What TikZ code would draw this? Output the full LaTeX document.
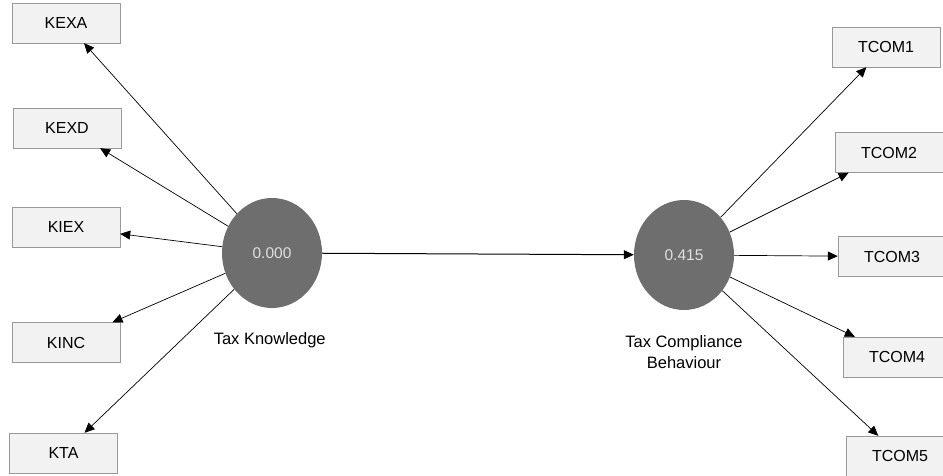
\documentclass[tikz,border=0pt]{standalone}
\usepackage{fontspec}
\setmainfont{Liberation Sans}
\usetikzlibrary{arrows.meta,shapes.geometric}
\begin{document}
\begin{tikzpicture}[x=1pt, y=-1pt,
        ind/.style={draw=black!40, fill=black!5, minimum width=108pt, minimum height=40pt,
            inner sep=0pt, font=\fontsize{16}{19}\selectfont},
        lat/.style={ellipse, fill=black!57, minimum width=100pt, minimum height=110pt,
            inner sep=0pt, text=white!88!black, font=\fontsize{15.5}{18}\selectfont},
        lbl/.style={align=center, font=\fontsize{16.5}{21}\selectfont},
        load/.style={line width=0.7pt, -{Triangle[length=10pt, width=9pt]}}]
                \useasboundingbox (0, 0) rectangle (943, 476);

                \node[lat] (A) at (272, 253) { 0.000 };
                \node[lat] (B) at (684, 255) { 0.415 };
                \node[lbl] (LA) at (272, 340) { Tax Knowledge };
                \node[lbl] (LB) at (684, 352) { Tax Compliance\\Behaviour };

                \node[ind] (A1) at (66, 23) { KEXA };
                \node[ind] (A2) at (67, 128) { KEXD };
                \node[ind] (A3) at (66, 227) { KIEX };
                \node[ind] (A4) at (66, 342.5) { KINC };
                \node[ind] (A5) at (63.5, 453) { KTA };

                \node[ind] (B1) at (886, 47) { TCOM1 };
                \node[ind] (B2) at (889, 152.5) { TCOM2 };
                \node[ind] (B3) at (892, 256.5) { TCOM3 };
                \node[ind] (B4) at (897, 357) { TCOM4 };
                \node[ind] (B5) at (900, 456) { TCOM5 };

                \draw[load, line width=1pt] (A) to (B);

                \draw[load] (A) to (A1);
                \draw[load] (A) to (A2);
                \draw[load] (A) to (A3);
                \draw[load] (A) to (A4);
                \draw[load] (A) to (A5);

                \draw[load] (B) to (B1);
                \draw[load] (B) to (B2);
                \draw[load] (B) to (B3);
                \draw[load] (B) to (B4);
                \draw[load] (B) to (B5);
            \end{tikzpicture}
\end{document}
